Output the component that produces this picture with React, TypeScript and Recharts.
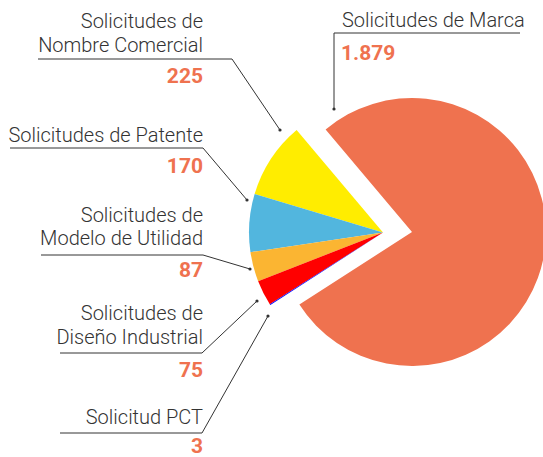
import React from 'react';
import { PieChart, Pie, Cell, Customized } from 'recharts';

const categories = [
  'Solicitudes de Marca',
  'Solicitudes de Nombre Comercial',
  'Solicitudes de Patente',
  'Solicitudes de Modelo de Utilidad',
  'Solicitudes de Diseño Industrial',
  'Solicitud PCT',
];
const values = [1879, 225, 170, 87, 75, 3];
const valueLabels = ['1.879', '225', '170', '87', '75', '3'];
const colors = ['#EF724F', '#FFED00', '#52B6DE', '#FBB532', '#FF0000', '#0000FF'];

const data = categories.map((name, i) => ({ name, value: values[i] }));

const TEXT = '#333333';
const NUM = '#EF724F';
const FONT = 'Roboto, sans-serif';

// label layout: text lines (right aligned at x=203), underline, leader end point
const leftLabels = [
  { idx: 1, lines: ['Solicitudes de', 'Nombre Comercial'], base: 28, ul: 59, ulFrom: 38, ulTo: 232, num: 83, tip: [280, 130] },
  { idx: 2, lines: ['Solicitudes de Patente'], base: 142, ul: 148, ulFrom: 10, ulTo: 203, num: 173, tip: [247, 200] },
  { idx: 3, lines: ['Solicitudes de', 'Modelo de Utilidad'], base: 221.5, ul: 255, ulFrom: 41, ulTo: 203, num: 277, tip: [250, 269] },
  { idx: 4, lines: ['Solicitudes de', 'Diseño Industrial'], base: 320, ul: 353, ulFrom: 60, ulTo: 202, num: 377, tip: [257, 301] },
  { idx: 5, lines: ['Solicitud PCT'], base: 424, ul: 433, ulFrom: 60, ulTo: 202, num: 453, tip: [268, 316] },
];

const Labels = () => (
  <g fontFamily={FONT}>
    {leftLabels.map((l) => (
      <g key={l.idx}>
        {l.lines.map((t, j) => (
          <text key={j} x={203} y={l.base + j * 23.5} textAnchor="end" fontSize={20} fontWeight={300} fill={TEXT}>
            {t}
          </text>
        ))}
        <polyline
          points={`${l.ulFrom},${l.ul} ${l.ulTo},${l.ul} ${l.tip[0]},${l.tip[1]}`}
          fill="none"
          stroke={TEXT}
          strokeWidth={1}
        />
        <circle cx={l.tip[0]} cy={l.tip[1]} r={1.6} fill={TEXT} />
        <text x={203} y={l.num} textAnchor="end" fontSize={21} fontWeight={700} fill={NUM}>
          {valueLabels[l.idx]}
        </text>
      </g>
    ))}
    <text x={342} y={27} fontSize={20} fontWeight={300} fill={TEXT}>
      {categories[0]}
    </text>
    <polyline points="520,33 334,33 334,109" fill="none" stroke={TEXT} strokeWidth={1} />
    <circle cx={334} cy={109} r={1.6} fill={TEXT} />
    <text x={341} y={60} fontSize={21} fontWeight={700} fill={NUM}>
      {valueLabels[0]}
    </text>
  </g>
);

const START = 212.8;

export default function App() {
  return (
    <div style={{ position: 'absolute', left: 0, top: 0, width: 543, height: 457, background: '#fff' }}>
      <PieChart width={543} height={457} margin={{ top: 0, right: 0, bottom: 0, left: 0 }}>
        {/* exploded Marca slice */}
        <Pie
          data={data}
          dataKey="value"
          cx={412}
          cy={232}
          outerRadius={134}
          startAngle={START}
          endAngle={START + 360}
          stroke="none"
          isAnimationActive={false}
        >
          {data.map((d, i) => (
            <Cell key={d.name} fill={i === 0 ? colors[0] : 'none'} />
          ))}
        </Pie>
        {/* remaining slices */}
        <Pie
          data={data}
          dataKey="value"
          cx={383}
          cy={232.5}
          outerRadius={134}
          startAngle={START}
          endAngle={START + 360}
          stroke="none"
          isAnimationActive={false}
        >
          {data.map((d, i) => (
            <Cell key={d.name} fill={i === 0 ? 'none' : colors[i]} />
          ))}
        </Pie>
        <Customized component={Labels} />
      </PieChart>
    </div>
  );
}
